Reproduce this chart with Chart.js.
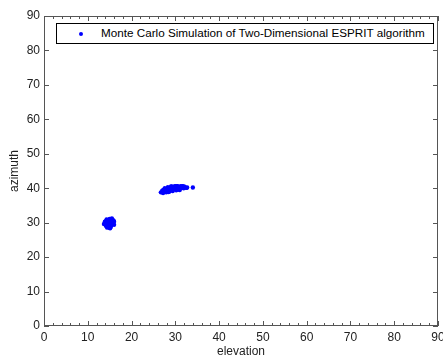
<!DOCTYPE html>
<html>
<head>
<meta charset="utf-8">
<script src="https://cdn.jsdelivr.net/npm/chart.js@4/dist/chart.umd.min.js"></script>
<style>
  body { margin: 0; background: #fff; }
  #wrap { position: relative; width: 443px; height: 361px; }
  #legend {
    position: absolute; left: 56px; top: 23px; width: 376px; height: 19px;
    border: 1px solid #000; background: #fff;
    font: 11.7px "Liberation Sans", Arial, sans-serif; color: #000;
  }
  #legend .dot {
    position: absolute; left: 22px; top: 8px; width: 4px; height: 4px;
    border-radius: 50%; background: #0000ff;
  }
  #legend .txt { position: absolute; left: 44px; top: 2px; white-space: nowrap; }
</style>
</head>
<body>
<div id="wrap">
  <canvas id="chart" width="443" height="361"></canvas>
  <div id="legend"><span class="dot"></span><span class="txt">Monte Carlo Simulation of Two-Dimensional ESPRIT algorithm</span></div>
</div>
<script>
// ===== Data =====
const seriesLabel = 'Monte Carlo Simulation of Two-Dimensional ESPRIT algorithm';
const axisTicks = [0, 10, 20, 30, 40, 50, 60, 70, 80, 90];

// estimates around (15, 30)
const clusterA_elev = [14.1, 14.3, 14.5, 14.2, 14.7, 14.9, 15.1, 15.3, 15.0, 14.6, 14.4, 15.2, 15.5, 15.7, 15.4, 15.8, 15.6, 14.8, 14.0, 13.9, 14.3, 14.7, 15.0, 15.9, 16.0, 15.3, 14.9, 14.5, 15.6, 14.2, 15.1, 14.6, 15.5, 13.7, 16.0, 14.4, 15.1];
const clusterA_azim = [29.3, 29.8, 30.2, 30.5, 29.6, 30.0, 30.4, 29.8, 29.2, 28.9, 29.1, 30.9, 31.0, 30.8, 30.5, 30.2, 29.6, 30.7, 29.9, 30.3, 30.9, 30.8, 31.1, 30.6, 29.4, 28.9, 28.5, 29.5, 30.0, 29.0, 29.7, 30.4, 31.2, 29.6, 30.3, 28.6, 28.4];

// estimates around (30, 40)
const clusterB_elev = [26.7, 27.0, 27.3, 27.5, 27.8, 28.0, 28.2, 28.5, 28.7, 28.9, 29.1, 29.3, 29.5, 29.7, 29.9, 30.1, 30.3, 30.5, 30.7, 30.9, 31.1, 31.3, 31.5, 31.7, 31.9, 32.2, 32.5, 32.7, 28.4, 29.0, 30.0, 27.6, 30.6, 31.2, 34.0, 27.2, 27.9, 28.6, 29.4, 30.2, 31.0, 28.3, 29.2, 30.4, 31.6, 32.0, 29.8];
const clusterB_azim = [38.8, 39.3, 39.6, 39.0, 39.4, 39.8, 39.2, 39.6, 40.0, 39.4, 39.8, 40.2, 39.6, 40.0, 40.4, 39.8, 40.2, 40.6, 40.0, 40.3, 39.9, 40.4, 40.1, 40.5, 40.0, 40.3, 40.1, 40.2, 38.9, 40.5, 40.6, 40.0, 39.6, 40.6, 40.2, 38.6, 38.8, 39.0, 39.2, 39.4, 39.5, 40.3, 40.5, 40.6, 40.6, 40.5, 40.5];

const points = [];
clusterA_elev.forEach((x, i) => points.push({ x, y: clusterA_azim[i] }));
clusterB_elev.forEach((x, i) => points.push({ x, y: clusterB_azim[i] }));

const FONT = '"Liberation Sans", Arial, sans-serif';

// MATLAB-like box with inward ticks
const boxPlugin = {
  id: 'box',
  afterDraw(chart) {
    const { ctx, chartArea: a, scales } = chart;
    const xs = scales.x, ys = scales.y;
    ctx.save();
    ctx.strokeStyle = '#555';
    ctx.lineWidth = 1;
    ctx.strokeRect(a.left + 0.5, a.top + 0.5, a.right - a.left - 1, a.bottom - a.top - 1);
    ctx.beginPath();
    for (let v = 0; v <= 90; v += 2) {
      const px = Math.round(xs.getPixelForValue(v)) + 0.5;
      const len = v % 10 === 0 ? 5 : 3;
      ctx.moveTo(px, a.bottom); ctx.lineTo(px, a.bottom - len);
      ctx.moveTo(px, a.top); ctx.lineTo(px, a.top + len);
    }
    axisTicks.forEach(v => {
      const py = Math.round(ys.getPixelForValue(v)) + 0.5;
      ctx.moveTo(a.left, py); ctx.lineTo(a.left + 5, py);
      ctx.moveTo(a.right, py); ctx.lineTo(a.right - 5, py);
    });
    ctx.stroke();
    ctx.restore();
  }
};

new Chart(document.getElementById('chart'), {
  type: 'scatter',
  data: {
    datasets: [{
      label: seriesLabel,
      data: points,
      backgroundColor: '#0000ff',
      borderColor: '#0000ff',
      borderWidth: 0,
      pointRadius: 2.2,
      pointHoverRadius: 2.2,
    }]
  },
  options: {
    responsive: false,
    animation: false,
    devicePixelRatio: 1,
    layout: { padding: { top: 16, right: 5, left: 0, bottom: 0 } },
    plugins: { legend: { display: false }, tooltip: { enabled: false } },
    scales: {
      x: {
        type: 'linear', min: 0, max: 90,
        afterBuildTicks: s => { s.ticks = axisTicks.map(v => ({ value: v })); },
        afterFit: s => { s.height = 35; s.paddingLeft = 0; s.paddingRight = 0; },
        grid: { display: false, drawTicks: false },
        border: { display: false },
        ticks: { color: '#222', padding: 4, maxRotation: 0, autoSkip: false, font: { family: FONT, size: 12 } },
        title: { display: true, text: 'elevation', color: '#222', padding: { top: 0, bottom: 2 }, font: { family: FONT, size: 12 } }
      },
      y: {
        type: 'linear', min: 0, max: 90,
        afterBuildTicks: s => { s.ticks = axisTicks.map(v => ({ value: v })); },
        afterFit: s => { s.width = 44; s.paddingTop = 0; s.paddingBottom = 0; },
        grid: { display: false, drawTicks: false },
        border: { display: false },
        ticks: { color: '#222', padding: 4, autoSkip: false, font: { family: FONT, size: 12 } },
        title: { display: true, text: 'azimuth', color: '#222', padding: { top: 7, bottom: 0 }, font: { family: FONT, size: 12 } }
      }
    }
  },
  plugins: [boxPlugin]
});
</script>
</body>
</html>
